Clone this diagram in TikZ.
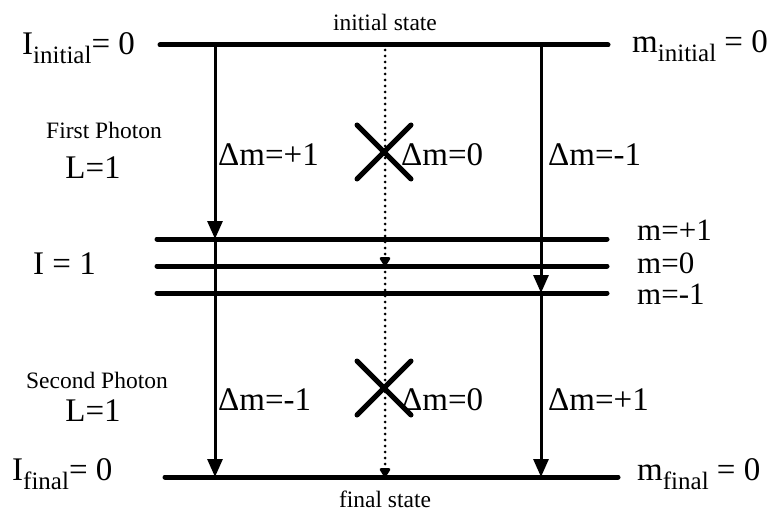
\documentclass[tikz,border=0pt]{standalone}
\usepackage{fontspec}
\setmainfont{Liberation Serif}
\usetikzlibrary{arrows.meta}
\newcommand\bigsz{\fontsize{33}{33}\selectfont}
\newcommand\msz{\fontsize{31}{31}\selectfont}
\newcommand\smallsz{\fontsize{23.5}{23.5}\selectfont}
\newcommand\sbs[1]{\raisebox{-9pt}{\fontsize{25}{25}\selectfont #1}}
\begin{document}
\begin{tikzpicture}[x=1pt,y=-1pt,
  level/.style={line width=5pt,line cap=round},
  trans/.style={line width=3pt,-{Triangle[length=18pt,width=15pt]}},
  forbid/.style={line width=3pt,line cap=round,dash pattern=on 0pt off 6pt,-{Triangle[length=10pt,width=12pt,round]}},
  cross/.style={line width=5pt,line cap=round},
  lbl/.style={inner sep=0pt,anchor=base west,font=\bigsz},
  mlbl/.style={inner sep=0pt,anchor=base west,font=\msz,text height=21pt,text depth=0pt},
  slbl/.style={inner sep=0pt,anchor=base,font=\smallsz}]
\useasboundingbox (0,0) rectangle (768,516);
% levels
\coordinate (i0L) at (160,45);  \coordinate (i0R) at (608,45);
\coordinate (p1L) at (157,239); \coordinate (p1R) at (607,239);
\coordinate (z1L) at (157,266); \coordinate (z1R) at (607,266);
\coordinate (n1L) at (157,293); \coordinate (n1R) at (607,293);
\coordinate (f0L) at (165,477); \coordinate (f0R) at (618,477);
\draw[level] (i0L) -- (i0R);
\draw[level] (p1L) -- (p1R);
\draw[level] (z1L) -- (z1R);
\draw[level] (n1L) -- (n1R);
\draw[level] (f0L) -- (f0R);
% transition points
\coordinate (a0) at (215,45); \coordinate (a1) at (215,239); \coordinate (a2) at (215,477);
\coordinate (b0) at (541,45); \coordinate (b1) at (541,293); \coordinate (b2) at (541,477);
\coordinate (c0) at (385,50); \coordinate (c1) at (385,266); \coordinate (c2) at (385,477);
\draw[trans] (a0) -- (a1);
\draw[trans] (a1) -- (a2);
\draw[trans] (b0) -- (b1);
\draw[trans] (b1) -- (b2);
\draw[forbid] (c0) -- (c1);
\draw[forbid] (c1) -- (c2);
% crosses
\coordinate (x1) at (384,152); \coordinate (x2) at (384,388);
\draw[cross] ([shift={(-27,-27)}]x1) -- ([shift={(27,27)}]x1);
\draw[cross] ([shift={(-27,27)}]x1) -- ([shift={(27,-27)}]x1);
\draw[cross] ([shift={(-27,-27)}]x2) -- ([shift={(27,27)}]x2);
\draw[cross] ([shift={(-27,27)}]x2) -- ([shift={(27,-27)}]x2);
% texts
\node[slbl] (ist) at (385,31) {initial state};
\node[slbl] (fst) at (385,507) {final state};
\node[lbl] (Ii) at (22,55) {I\sbs{initial}= 0};
\node[lbl] (mi) at (632,53) {m\sbs{initial} = 0};
\node[lbl] (If) at (12,480) {I\sbs{final}= 0};
\node[lbl] (mf) at (637,480) {m\sbs{final} = 0};
\node[slbl] (fp) at (104,139) {First Photon};
\node[lbl,anchor=base] (L1) at (93,178) {L=1};
\node[slbl] (sp) at (97,388) {Second Photon};
\node[lbl,anchor=base] (L2) at (93,421) {L=1};
\node[lbl] (I1) at (33,274) {I = 1};
\node[mlbl] (mp) at (637,240) {m=+1};
\node[mlbl] (mz) at (637,273) {m=0};
\node[mlbl] (mn) at (637,304) {m=-1};
\node[lbl] (d1) at (218,165) {Δm=+1};
\node[lbl] (d2) at (401,165) {Δm=0};
\node[lbl] (d3) at (548,165) {Δm=-1};
\node[lbl] (d4) at (218,410) {Δm=-1};
\node[lbl] (d5) at (401,410) {Δm=0};
\node[lbl] (d6) at (548,410) {Δm=+1};
\end{tikzpicture}
\end{document}
